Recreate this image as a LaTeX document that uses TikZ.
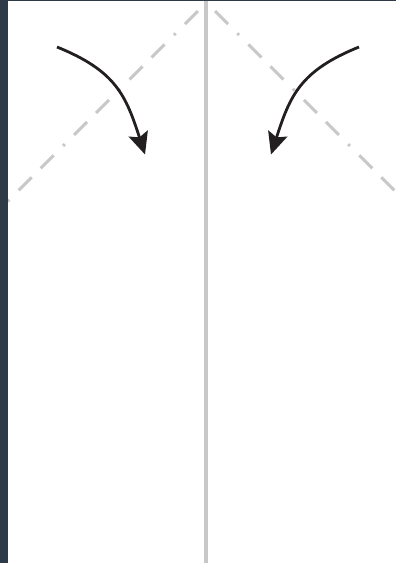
\documentclass[tikz,border=0pt]{standalone}
\usetikzlibrary{arrows.meta}
\definecolor{frame}{RGB}{46,58,72}
\definecolor{fold}{RGB}{200,200,200}
\definecolor{ink}{RGB}{35,31,32}
\tikzset{
  foldline/.style={draw=fold, line width=3pt, dash pattern=on 18.4pt off 13.2pt on 2.5pt off 13.2pt on 18.4pt off 12.7pt},
  crease/.style={draw=fold, line width=3.5pt},
  turn/.style={draw=ink, line width=2.8pt, -{Stealth[length=22pt,width=20pt,inset=4pt]}}
}
\begin{document}
\begin{tikzpicture}[x=1pt,y=-1pt]
\clip (0,0) rectangle (396,563);
\fill[white] (0,0) rectangle (396,563);
% crease
\coordinate (ctop) at (206,0);
\coordinate (cbot) at (206,563);
\draw[crease] (ctop) -- (cbot);
% fold lines
\coordinate (ls) at (198,11);
\coordinate (le) at (5,204);
\coordinate (rs) at (215,11);
\coordinate (re) at (408,204);
\draw[foldline] (ls) -- (le);
\draw[foldline] (rs) -- (re);
% arrows
\coordinate (a1) at (57,47);
\coordinate (a2) at (145,154.5);
\coordinate (b1) at (359,47);
\coordinate (b2) at (271,154.5);
\draw[turn] (a1) .. controls (115.9,70.8) and (125.9,95.5) .. (a2);
\draw[turn] (b1) .. controls (300.1,70.8) and (290.1,95.5) .. (b2);
% frame strips
\fill[frame] (0,0) rectangle (8,563);
\fill[frame] (0,0) rectangle (396,1.4);
\end{tikzpicture}
\end{document}
